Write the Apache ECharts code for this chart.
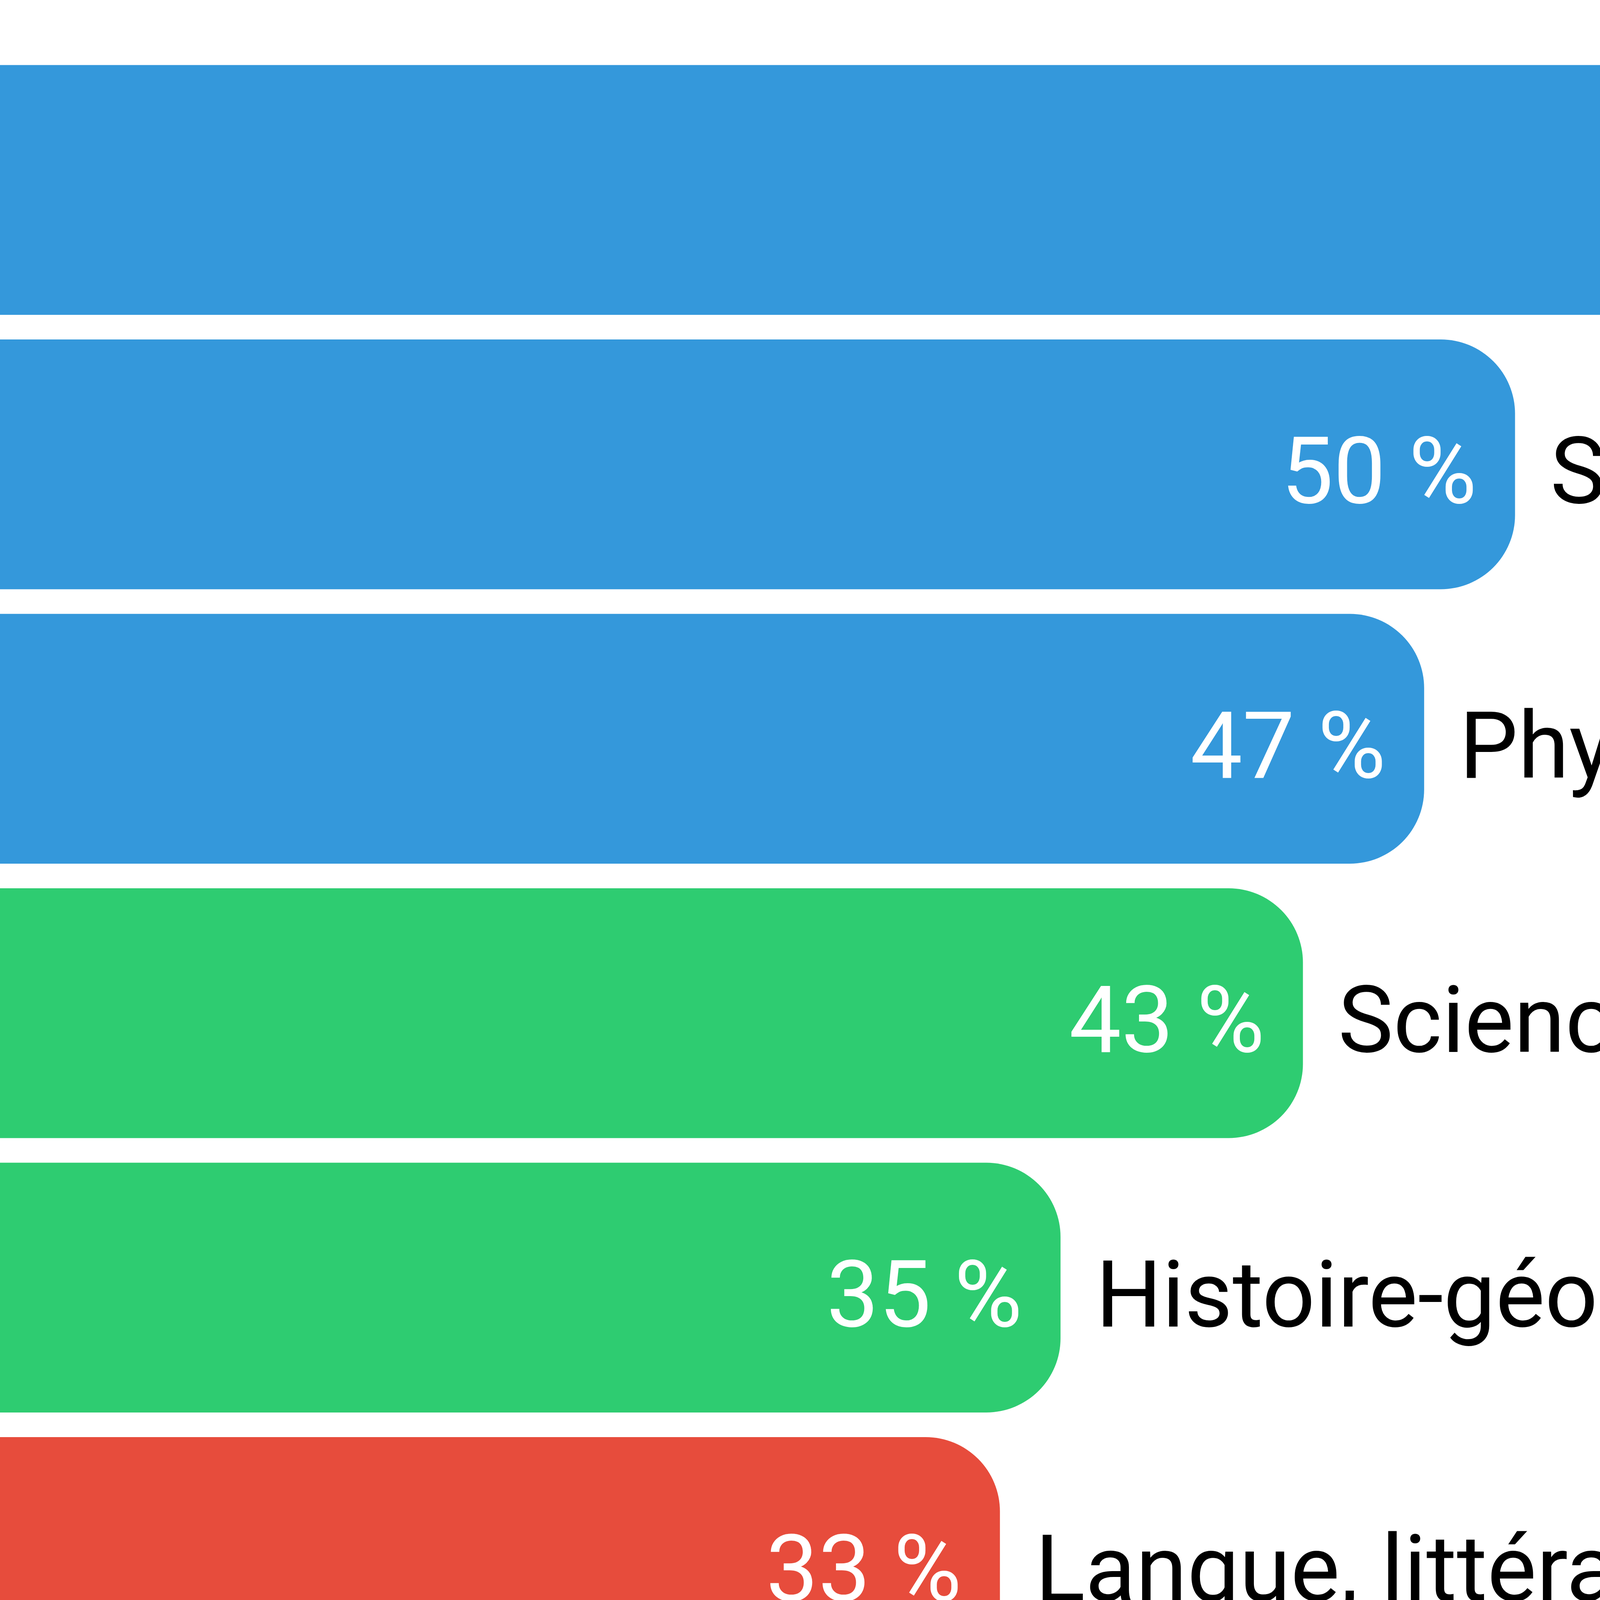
<!DOCTYPE html>
<html><head><meta charset="utf-8">
<script src="https://cdn.jsdelivr.net/npm/echarts@6/dist/echarts.min.js"></script>
<style>html,body{margin:0;padding:0;background:#fff;overflow:hidden}#c{width:7757px;height:4363px}</style>
</head><body><div id="c"></div>
<script>
const categories = [
  'Mathématiques',
  'Sciences et vie de la terre',
  'Physique-chimie',
  'Sciences économiques et sociales',
  'Histoire-géo., géopolitique, sciences po.',
  'Langue, littérature et civilisation étrangères'
];
const values = [66, 50, 47, 43, 35, 33];
const barColors = ['#3498db', '#3498db', '#3498db', '#2ecc71', '#2ecc71', '#e74c3c'];

const FONT = 'Roboto';
const FS = 238;
const chart = echarts.init(document.getElementById('c'), null, {renderer: 'canvas'});
chart.setOption({
  animation: false,
  backgroundColor: '#ffffff',
  grid: {left: 0, top: 135, width: 7792, height: 4215, containLabel: false},
  xAxis: {type: 'value', min: 0, max: 100, show: false},
  yAxis: {type: 'category', data: categories, inverse: true, show: false},
  series: [
    {
      type: 'bar',
      data: values.map((v, i) => ({value: v, itemStyle: {color: barColors[i]}})),
      barCategoryGap: '9%',
      itemStyle: {borderRadius: [0, 190, 190, 0]},
      label: {
        show: true, position: 'insideRight', distance: 98, offset: [0, 40],
        color: '#ffffff', fontFamily: FONT, fontSize: FS,
        formatter: p => p.value + ' %'
      }
    },
    {
      type: 'bar',
      data: values,
      barGap: '-100%',
      barCategoryGap: '9%',
      silent: true,
      itemStyle: {color: 'rgba(0,0,0,0)'},
      label: {
        show: true, position: 'right', distance: 90, offset: [0, 40],
        color: '#000000', fontFamily: FONT, fontSize: FS,
        formatter: p => p.name
      }
    }
  ]
});
</script></body></html>
